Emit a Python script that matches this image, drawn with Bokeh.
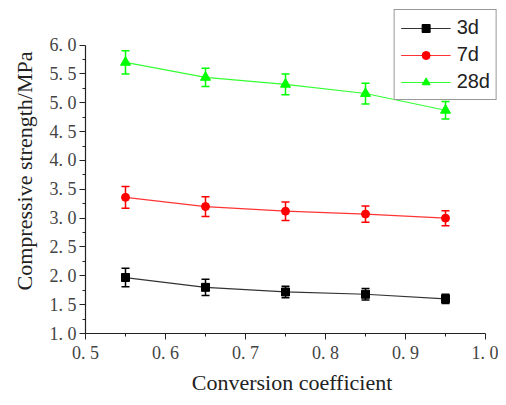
from bokeh.plotting import figure
from bokeh.models import (Range1d, FixedTicker, CustomJSTickFormatter, Whisker,
                          ColumnDataSource, TeeHead, Legend, LegendItem)
from bokeh.embed import file_html
from bokeh.resources import INLINE

x = [0.55, 0.65, 0.75, 0.85, 0.95]
s3 = [1.97, 1.80, 1.72, 1.68, 1.60]
e3 = [0.16, 0.14, 0.10, 0.10, 0.08]
s7 = [3.36, 3.20, 3.12, 3.07, 3.00]
e7 = [0.19, 0.17, 0.16, 0.14, 0.13]
s28 = [5.70, 5.44, 5.32, 5.16, 4.87]
e28 = [0.20, 0.16, 0.18, 0.18, 0.15]
labels = ["3d", "7d", "28d"]
y_ticks = [1.0, 1.5, 2.0, 2.5, 3.0, 3.5, 4.0, 4.5, 5.0, 5.5, 6.0]
x_ticks = [0.5, 0.6, 0.7, 0.8, 0.9, 1.0]

SERIF = "Liberation Serif"

p = figure(width=498, height=397, output_backend="svg", toolbar_location=None,
           x_range=Range1d(0.5, 1.01625), y_range=Range1d(1.0, 6.634),
           min_border_left=85, min_border_right=0, min_border_top=8,
           min_border_bottom=60)
p.grid.visible = False
p.outline_line_color = None
p.background_fill_color = "white"

fmt = CustomJSTickFormatter(code="return tick.toFixed(1).replace('.', '. ');")

xa = p.xaxis[0]
xa.bounds = (0.5, 1.0)
xa.ticker = FixedTicker(ticks=x_ticks,
                        minor_ticks=[0.55, 0.65, 0.75, 0.85, 0.95])
ya = p.yaxis[0]
ya.bounds = (1.0, 6.0)
ya.ticker = FixedTicker(ticks=y_ticks,
                        minor_ticks=[1.25, 1.75, 2.25, 2.75, 3.25, 3.75, 4.25,
                                     4.75, 5.25, 5.75])
for ax in (xa, ya):
    ax.formatter = fmt
    ax.axis_line_color = "#222222"
    ax.axis_line_width = 1.2
    ax.major_tick_line_color = "#222222"
    ax.minor_tick_line_color = "#222222"
    ax.major_tick_out = 6
    ax.major_tick_in = 0
    ax.minor_tick_out = 3
    ax.minor_tick_in = 0
    ax.major_label_text_font = SERIF
    ax.major_label_text_font_size = "18px"
    ax.major_label_text_color = "#444444"
    ax.axis_label_text_font = SERIF
    ax.axis_label_text_font_size = "22px"
    ax.axis_label_text_font_style = "normal"
    ax.axis_label_text_color = "#222222"

xa.axis_label = "Conversion coefficient"
ya.axis_label = "Compressive strength/MPa"
xa.major_label_standoff = 3
xa.axis_label_standoff = 4
ya.major_label_standoff = 3
ya.axis_label_standoff = 10

series = [(s3, e3, "black", "square", 8),
          (s7, e7, "red", "circle", 8),
          (s28, e28, "#00ff00", "triangle", 10)]
items = []
for (vals, errs, col, mk, sz), lab in zip(series, labels):
    src = ColumnDataSource(dict(x=x, y=vals,
                                lo=[v - e for v, e in zip(vals, errs)],
                                hi=[v + e for v, e in zip(vals, errs)]))
    w = Whisker(source=src, base="x", lower="lo", upper="hi",
                line_color=col, line_width=1.5,
                upper_head=TeeHead(size=8, line_color=col, line_width=1.5),
                lower_head=TeeHead(size=8, line_color=col, line_width=1.5))
    p.add_layout(w)
    r1 = p.line("x", "y", source=src, line_color=col, line_width=1.2,
                line_alpha=0.8)
    r2 = p.scatter("x", "y", source=src, marker=mk, size=sz, fill_color=col,
                   line_color=col)
    items.append(LegendItem(label=lab, renderers=[r1, r2]))

leg = Legend(items=items, location="top_right", margin=1, padding=6,
             spacing=4, glyph_width=50, glyph_height=20, label_standoff=6,
             label_text_font="Liberation Sans", label_text_font_size="20px",
             label_text_color="#222222",
             border_line_color="#333333", border_line_width=1.5,
             background_fill_color="white", background_fill_alpha=1.0)
p.add_layout(leg)

open("out.html", "w").write(file_html(p, INLINE))
